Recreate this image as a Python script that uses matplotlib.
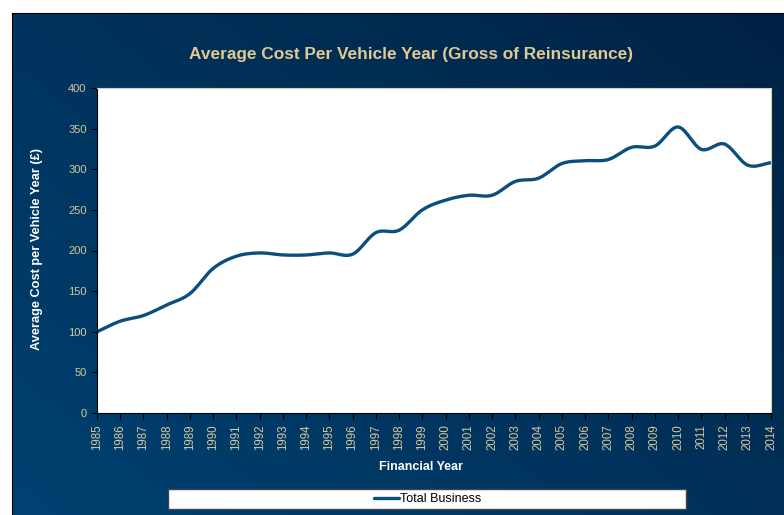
import numpy as np
import matplotlib.pyplot as plt
from matplotlib.patches import Rectangle

plt.rcParams['font.family'] = ['Liberation Sans', 'DejaVu Sans']

years = list(range(1985, 2015))
avg_cost = [100, 113, 120, 133, 147, 178, 193, 197, 194.5, 194.5,
            197, 195.5, 222, 225, 250, 262, 268, 268, 285, 289,
            307, 310.5, 312, 327, 328.5, 352, 324.5, 331, 305, 308]
y_ticks = [0, 50, 100, 150, 200, 250, 300, 350, 400]

tan = '#d8c79c'
line_col = '#0a4e7e'


def smooth(x, y, n=20):
    # Catmull-Rom curve through the points, like a spreadsheet "smoothed line"
    x = np.asarray(x, float)
    y = np.asarray(y, float)
    px = np.concatenate([[2 * x[0] - x[1]], x, [2 * x[-1] - x[-2]]])
    py = np.concatenate([[2 * y[0] - y[1]], y, [2 * y[-1] - y[-2]]])
    xs, ys = [], []
    t = np.linspace(0, 1, n, endpoint=False)
    for i in range(1, len(px) - 2):
        for arr, out in ((px, xs), (py, ys)):
            p0, p1, p2, p3 = arr[i - 1], arr[i], arr[i + 1], arr[i + 2]
            out.extend(0.5 * (2 * p1 + (-p0 + p2) * t
                              + (2 * p0 - 5 * p1 + 4 * p2 - p3) * t ** 2
                              + (-p0 + 3 * p1 - 3 * p2 + p3) * t ** 3))
    xs.append(x[-1])
    ys.append(y[-1])
    return np.array(xs), np.array(ys)


fig = plt.figure(figsize=(7.84, 5.15), dpi=100)
fig.patch.set_facecolor('white')

# dark blue gradient panel
bg = fig.add_axes([12 / 784, 0, 1 - 12 / 784, (515 - 13) / 515])
gx, gy = np.meshgrid(np.linspace(0, 1, 300), np.linspace(0, 1, 200))
g = np.clip(0.55 * gx + 0.45 * (1 - gy), 0, 1)
c0 = np.array([0x00, 0x42, 0x72]) / 255
c1 = np.array([0x00, 0x22, 0x44]) / 255
img = c0[None, None, :] * (1 - g[..., None]) + c1[None, None, :] * g[..., None]
bg.imshow(img, aspect='auto', extent=[0, 1, 0, 1], origin='upper')
bg.set_xticks([])
bg.set_yticks([])
for s in ['right', 'bottom']:
    bg.spines[s].set_visible(False)
bg.spines['top'].set_color('black')
bg.spines['left'].set_color('black')

ax = fig.add_axes([97 / 784, (515 - 413) / 515, (771 - 97) / 784, (413 - 88) / 515])
ax.set_facecolor('white')
sx, sy = smooth(years, avg_cost)
line, = ax.plot(sx, sy, color=line_col, linewidth=2.4, solid_capstyle='round',
                label='Total Business')

ax.set_xlim(years[0], years[-1])
ax.set_ylim(0, 400)
ax.set_yticks(y_ticks)
ax.set_xticks(years)
ax.set_xticklabels([str(y) for y in years], rotation=90)
ax.tick_params(axis='both', colors='black', labelcolor=tan, labelsize=8,
               length=4, width=0.8, direction='out')
ax.tick_params(axis='x', labelsize=8.3, pad=4)
ax.spines['left'].set_color('black')
ax.spines['bottom'].set_color('black')
ax.spines['top'].set_color('#c9d6b0')
ax.spines['right'].set_color('#c9d6b0')

fig.text(411 / 784, 1 - 54 / 515, 'Average Cost Per Vehicle Year (Gross of Reinsurance)',
         color='#e2c98f', fontsize=12.4, fontweight='bold', ha='center', va='center')
fig.text(37 / 784, 1 - 249 / 515, 'Average Cost per Vehicle Year (£)', color='white',
         fontsize=9.2, fontweight='bold', rotation=90, ha='center', va='center')
fig.text(421 / 784, 1 - 467 / 515, 'Financial Year', color='white',
         fontsize=9, fontweight='bold', ha='center', va='center')

# legend box
fig.patches.append(Rectangle((168 / 784, 1 - 509 / 515), (686 - 168) / 784, 20 / 515,
                             transform=fig.transFigure, facecolor='white',
                             edgecolor='#444444', linewidth=1))
fig.legend(handles=[line], loc='center', bbox_to_anchor=(428 / 784, 1 - 499 / 515),
           frameon=False, fontsize=9, handlelength=2.0, handletextpad=0.1,
           borderpad=0, labelcolor='black')

fig.savefig('out.png', dpi=100)
